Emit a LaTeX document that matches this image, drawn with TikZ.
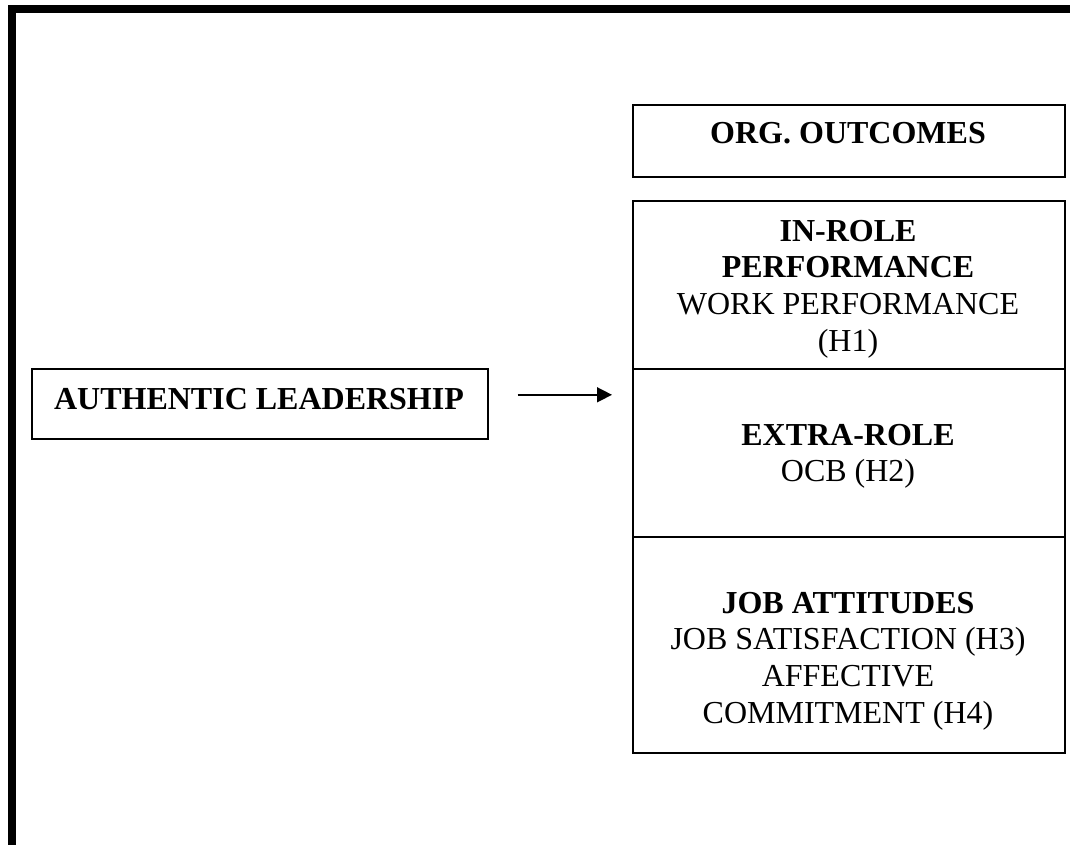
\documentclass[tikz,border=0pt]{standalone}
\usepackage{fontspec}
\setmainfont{Liberation Serif}
\usetikzlibrary{arrows.meta}
\begin{document}
\begin{tikzpicture}[x=1pt,y=-1pt,
  box/.style={draw=black,line width=1.6pt,rectangle,inner sep=0pt,anchor=north west},
  txt/.style={inner sep=0pt,align=center,font=\fontsize{32}{36.7}\selectfont},
  arr/.style={line width=1.5pt,-{Triangle[length=15pt,width=15pt]}}
]
\useasboundingbox (0,0) rectangle (1070,845);
% thick page frame, open to the right and bottom
\draw[line width=8pt,line join=miter] (11.5,845) -- (11.5,9) -- (1070,9);

% left construct
\node[box,minimum width=456pt,minimum height=70pt] (auth) at (31,368) {};
\node[txt,anchor=base] (autht) at (259,409) {\textbf{AUTHENTIC LEADERSHIP}};

% outcome column
\node[box,minimum width=432pt,minimum height=72pt] (org) at (632,104) {};
\node[txt,anchor=base] (orgt) at (848,144) {\textbf{ORG. OUTCOMES}};

\node[box,minimum width=432pt,minimum height=168pt] (inrole) at (632,200) {};
\node[txt,anchor=north] (inrolet) at (848,215.3)
  {\strut\textbf{IN-ROLE}\\\textbf{PERFORMANCE}\\WORK PERFORMANCE\\(H1)};

\node[box,minimum width=432pt,minimum height=168pt] (extra) at (632,368) {};
\node[txt,anchor=north] (extrat) at (848,419.3)
  {\strut\textbf{EXTRA-ROLE}\\OCB (H2)};

\node[box,minimum width=432pt,minimum height=216pt] (job) at (632,536) {};
\node[txt,anchor=north] (jobt) at (848,587.3)
  {\strut\textbf{JOB ATTITUDES}\\JOB SATISFACTION (H3)\\AFFECTIVE\\COMMITMENT (H4)};

% effect arrow
\draw[arr] ([xshift=29pt,yshift=9pt]auth.east) -- ([xshift=-20pt,yshift=9pt]auth.east -| inrole.west);
\end{tikzpicture}
\end{document}
